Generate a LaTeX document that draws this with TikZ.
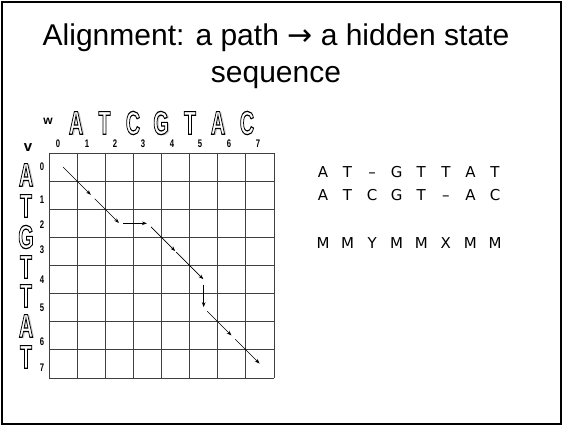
\documentclass[tikz,border=0pt]{standalone}
\usepackage{fontspec}
\setmainfont{Liberation Sans}
\newfontfamily\dejavu{DejaVu Sans}
\usetikzlibrary{arrows.meta}
% hollow (outlined) letter: white fill, black stroke
\newcommand{\hollow}[1]{\special{pdf:literal direct 0 0 0 RG 2 Tr 1.2 w}\scalebox{0.6}[1]{#1}\special{pdf:literal direct 0 Tr}}
\newcommand{\olet}[4]{%
  \node[bigl,text=white] (#1) at (#2,#3) {\hollow{#4}};
}
\newcommand{\oletsh}[4]{%
  \node[bigl,text=black!45,opacity=0.45] at (#2+1.8,#3+1.6) {\scalebox{0.6}[1]{#4}};
  \node[bigl,text=white] (#1) at (#2,#3) {\hollow{#4}};
}
\tikzset{
  bigl/.style={inner sep=0pt,font=\fontsize{33}{33}\selectfont\bfseries},
  digit/.style={inner sep=0pt,font=\fontsize{11}{11}\selectfont\bfseries},
  gridln/.style={draw=black!75,line width=0.9pt},
  patharrow/.style={-{Stealth[length=5pt,width=3.6pt]},line width=0.6pt,shorten <=5pt,shorten >=0.5pt},
  seqch/.style={inner sep=0pt,anchor=base,font=\dejavu\fontsize{15}{15}\selectfont},
  titletxt/.style={inner sep=0pt,anchor=base,font=\fontsize{30}{36}\selectfont},
}
\begin{document}
\begin{tikzpicture}[x=1pt,y=-1pt]
\useasboundingbox (0,0) rectangle (563,427);
\draw[line width=1.6pt] (2,2) rectangle (561,424);
% title
\node[titletxt] (title1) at (276,46) {Alignment: a path {\dejavu →} a hidden state};
\node[titletxt] (title2) at (276,83) {sequence};
% grid
\foreach \k in {0,...,8}{
  \draw[gridln] (49+28.125*\k,153) -- (49+28.125*\k,378);
  \draw[gridln] (49,153+28.125*\k) -- (274,153+28.125*\k);
}
% cell centre coordinates
\foreach \i in {0,...,7}{\foreach \j in {0,...,7}{
  \coordinate (c-\i-\j) at (49+28.125*\j+14.06,153+28.125*\i+14.06);
}}
% path arrows
\draw[patharrow,shorten <=0pt] (c-0-0) -- (c-1-1);
\draw[patharrow] (c-1-1) -- (c-2-2);
\draw[patharrow,shorten <=4pt] (c-2-2) -- (c-2-3);
\draw[patharrow] (c-2-3) -- (c-3-4);
\draw[patharrow,shorten <=1pt] (c-3-4) -- (c-4-5);
\draw[patharrow] (c-4-5) -- (c-5-5);
\draw[patharrow] (c-5-5) -- (c-6-6);
\draw[patharrow] (c-6-6) -- (c-7-7);
% labels w, v
\node[inner sep=0pt,font=\fontsize{12}{12}\selectfont\bfseries] (wlab) at (48,121) {w};
\node[inner sep=0pt,font=\fontsize{15}{15}\selectfont\bfseries] (vlab) at (28,148) {v};
% top letters
\oletsh{t1}{76}{123}{A}
\olet{t2}{104.5}{123}{T}
\olet{t3}{133}{123}{C}
\oletsh{t4}{161}{123}{G}
\olet{t5}{190}{123}{T}
\oletsh{t6}{218}{123}{A}
\olet{t7}{247}{123}{C}
% left letters
\oletsh{l1}{26}{175}{A}
\olet{l2}{26}{206}{T}
\olet{l3}{26}{237}{G}
\olet{l4}{26}{267}{T}
\olet{l5}{26}{296}{T}
\oletsh{l6}{26}{326}{A}
\olet{l7}{26}{357}{T}
% top digits
\foreach \d/\x in {0/58,1/87,2/115,3/143,4/172,5/200,6/229,7/258}{
  \node[digit] (td\d) at (\x,144) {\scalebox{0.7}[1]{\d}};
}
% left digits
\foreach \d/\y in {0/167,1/200,2/225,3/250,4/280,5/308,6/342,7/368}{
  \node[digit] (ld\d) at (42,\y) {\scalebox{0.7}[1]{\d}};
}
% alignment text
\foreach \ch [count=\n from 0] in {A,T,–,G,T,T,A,T}{
  \node[seqch] (ra\n) at (323+24.57*\n,177.5) {\ch};
}
\foreach \ch [count=\n from 0] in {A,T,C,G,T,–,A,C}{
  \node[seqch] (rb\n) at (323+24.57*\n,200.5) {\ch};
}
\foreach \ch [count=\n from 0] in {M,M,Y,M,M,X,M,M}{
  \node[seqch] (rc\n) at (323+24.57*\n,248.5) {\ch};
}
\end{tikzpicture}
\end{document}
